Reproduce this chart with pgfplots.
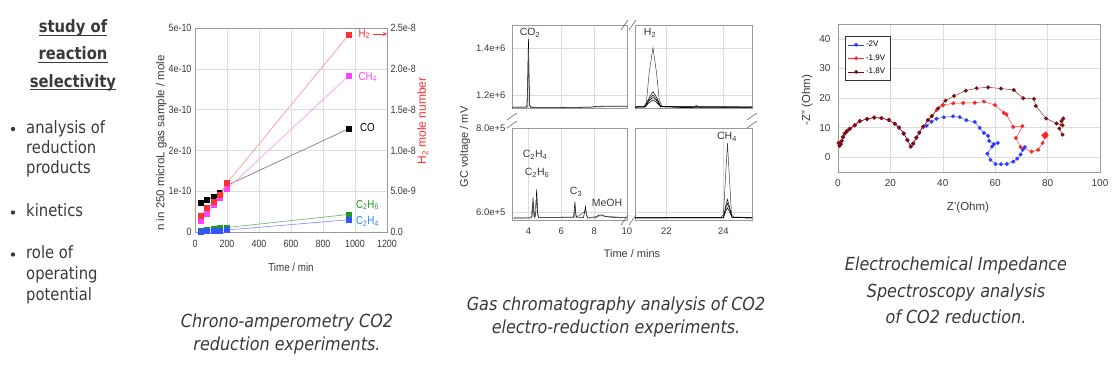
\documentclass[border=0pt]{standalone}
\usepackage{fontspec}
\setmainfont{Liberation Sans}
\newfontfamily\pa[FakeStretch=0.85]{Liberation Sans}
\newfontfamily\lf[FakeStretch=0.87]{DejaVu Sans}
\newfontfamily\cf[FakeStretch=0.89]{DejaVu Sans}
\usepackage{pgfplots}
\pgfplotsset{compat=1.18}
\definecolor{txt}{HTML}{3A3A3A}
\definecolor{gridc}{HTML}{DCDCDC}
\definecolor{axc}{HTML}{9A9A9A}
\definecolor{hred}{HTML}{FF3030}
\definecolor{hredl}{HTML}{FF9A9A}
\definecolor{cmag}{HTML}{FF40FF}
\definecolor{cmagl}{HTML}{FF9CFF}
\definecolor{cgrn}{HTML}{229922}
\definecolor{cgrnl}{HTML}{77BB77}
\definecolor{cblu}{HTML}{3355FF}
\definecolor{cblul}{HTML}{8899FF}
\definecolor{eblue}{HTML}{2E3BFF}
\definecolor{ered}{HTML}{FF2222}
\definecolor{emar}{HTML}{7A0F0F}
\pgfplotsset{
  base/.style={scale only axis, axis line style={draw=axc}, grid=major,
    grid style={draw=gridc, line width=0.4pt}, major tick length=0pt,
    tick label style={text=txt}, anchor=south west},
}
\newcommand{\paf}{\pa\fontsize{10.5}{11}\selectfont}
\newcommand{\pal}{\pa\fontsize{11.5}{12}\selectfont}
\newcommand{\gt}{\fontsize{9.5}{10}\selectfont}
\newcommand{\lff}{\lf\fontsize{17}{20}\selectfont}
\newcommand{\cff}{\cf\itshape\fontsize{18}{22}\selectfont}
\begin{document}
\begin{tikzpicture}[x=1pt,y=1pt]
\path[use as bounding box, fill=white] (0,0) rectangle (1120,366);

% ---------- left text ----------
\begin{scope}[every node/.style={inner sep=0, text=txt}]
\node[anchor=base, font={\lff\bfseries}] (t1) at (73,{366-32.7}) {study of};
\node[anchor=base, font={\lff\bfseries}] (t2) at (73,{366-60}) {reaction};
\node[anchor=base, font={\lff\bfseries}] (t3) at (73,{366-87.3}) {selectivity};
\foreach \t in {t1,t2,t3}{
  \draw[txt, line width=1.1pt] ([yshift=-2.4pt]\t.base west) -- ([yshift=-2.4pt]\t.base east);}
\node[anchor=base west, font=\lff] at (26,{366-133.5}) {analysis of};
\node[anchor=base west, font=\lff] at (26,{366-153.5}) {reduction};
\node[anchor=base west, font=\lff] at (26,{366-173.5}) {products};
\node[anchor=base west, font=\lff] at (26,{366-217}) {kinetics};
\node[anchor=base west, font=\lff] at (26,{366-259}) {role of};
\node[anchor=base west, font=\lff] at (26,{366-280}) {operating};
\node[anchor=base west, font=\lff] at (26,{366-301}) {potential};
\fill[txt] (13,{366-129}) circle (2.2);
\fill[txt] (13,{366-212.5}) circle (2.2);
\fill[txt] (13,{366-254.5}) circle (2.2);
% captions
\node[anchor=base, font=\cff] at (287,{366-328}) {Chrono-amperometry CO2};
\node[anchor=base, font=\cff] at (287,{366-351}) {reduction experiments.};
\node[anchor=base, font=\cff] at (616,{366-311}) {Gas chromatography analysis of CO2};
\node[anchor=base, font=\cff] at (616,{366-334}) {electro-reduction experiments.};
\node[anchor=base, font=\cff] at (956,{366-271}) {Electrochemical Impedance};
\node[anchor=base, font=\cff] at (956,{366-298}) {Spectroscopy analysis};
\node[anchor=base, font=\cff] at (956,{366-324}) {of CO2 reduction.};
\end{scope}

% ---------- panel 1: chrono-amperometry ----------
\begin{axis}[base, at={(195pt,134pt)}, width=192pt, height=204pt,
  xmin=0, xmax=1200, ymin=0, ymax=5, clip=false,
  xtick={0,200,400,600,800,1000,1200}, xticklabels={0,200,400,600,800,1000,1200},
  ytick={0,1,2,3,4,5}, yticklabels={0,1e-10,2e-10,3e-10,4e-10,5e-10},
  tick label style={font=\paf},
  xticklabel style={yshift=-5pt},
  xlabel={Time / min}, ylabel={n in 250 microL gas sample / mole},
  xlabel style={font=\pal, text=txt, at={(axis description cs:0.5,-0.172)}, anchor=center},
  ylabel style={font=\fontsize{11.5}{12}\selectfont, text=txt, at={(axis description cs:-0.175,0.436)}, anchor=center},
  mark size=2.5pt]
\addplot[draw=gray, line width=0.7pt, mark=square*, mark options={draw=black,fill=black}] coordinates {(35,0.71) (77,0.79) (118,0.87) (156,0.97) (200,1.14) (960,2.53)};
\addplot[draw=cmagl, line width=0.7pt, mark=square*, mark options={draw=cmag,fill=cmag}] coordinates {(35,0.27) (77,0.45) (118,0.66) (156,0.84) (200,1.05) (960,3.83)};
\addplot[draw=cgrnl, line width=0.7pt, mark=square*, mark options={draw=cgrn,fill=cgrn}] coordinates {(35,0.03) (77,0.05) (118,0.07) (156,0.09) (200,0.11) (960,0.43)};
\addplot[draw=cblul, line width=0.7pt, mark=square*, mark options={draw=cblu,fill=cblu}] coordinates {(35,0.01) (77,0.02) (118,0.03) (156,0.04) (200,0.05) (960,0.30)};
\node[anchor=west, text=hred, font=\pal] at (axis cs:1000,4.85) {H\textsubscript{2}};
\draw[hred, line width=0.8pt, -stealth] (axis cs:1115,4.85) -- (axis cs:1200,4.85);
\node[anchor=west, text=cmag, font=\pal] at (axis cs:1000,3.8) {CH\textsubscript{4}};
\node[anchor=west, text=black, font=\pal] at (axis cs:1010,2.55) {CO};
\node[anchor=west, text=cgrn, font=\pal] at (axis cs:985,0.66) {C\textsubscript{2}H\textsubscript{6}};
\node[anchor=west, text=cblu!70!cyan, font=\pal] at (axis cs:985,0.25) {C\textsubscript{2}H\textsubscript{4}};
\end{axis}
\begin{axis}[scale only axis, anchor=south west, at={(195pt,134pt)}, width=192pt, height=204pt,
  xmin=0, xmax=1200, ymin=0, ymax=2.5, axis x line=none, axis y line*=right,
  axis line style={draw=axc}, major tick length=0pt,
  ytick={0,0.5,1,1.5,2,2.5}, yticklabels={0.0,5.0e-9,1.0e-8,1.5e-8,2.0e-8,2.5e-8},
  tick label style={font=\paf, text=txt},
  ylabel={H\textsubscript{2} mole number},
  ylabel style={font=\fontsize{12}{13}\selectfont, text=hred, at={(axis description cs:1.185,0.544)}, anchor=center, rotate=0},
  mark size=2.5pt]
\addplot[draw=hredl, line width=0.7pt, mark=square*, mark options={draw=hred,fill=hred}] coordinates {(35,0.195) (77,0.295) (118,0.37) (156,0.45) (200,0.60) (960,2.415)};
\end{axis}

% ---------- panel 2: GC ----------
\begin{axis}[base, at={(512pt,258pt)}, width=115pt, height=83pt,
  xmin=3, xmax=10, ymin=11.45, ymax=15,
  xtick={4,6,8,10}, xticklabels={}, ytick={12,14}, yticklabels={1.2e+6,1.4e+6},
  tick label style={font=\gt}, yticklabel style={xshift=-3pt}]
\addplot[black, line width=0.55pt] coordinates {(3.0,11.49) (3.85,11.49) (3.88,11.53) (3.92,11.50) (3.96,12.8) (4.0,14.4) (4.04,12.6) (4.08,11.55) (4.15,11.47) (5,11.47) (6,11.47) (7,11.48) (7.9,11.49) (8.1,11.52) (9,11.53) (9.8,11.53) (10,11.52)};
\addplot[black!70, line width=0.45pt] coordinates {(3.0,11.48) (3.9,11.49) (3.96,12.5) (4.0,14.0) (4.05,12.2) (4.1,11.5) (5,11.46) (7,11.47) (8.2,11.5) (9.5,11.51) (10,11.5)};
\end{axis}
\begin{axis}[base, at={(635pt,258pt)}, width=117pt, height=83pt,
  xmin=20.9, xmax=25.0, ymin=11.45, ymax=15,
  xtick={22,24}, xticklabels={}, ytick={12,14}, yticklabels={}]
\addplot[black!75, line width=0.5pt] coordinates {(20.9,11.50) (21.2,11.50) (21.3,11.70) (21.4,13.0) (21.53,14.03) (21.65,13.0) (21.75,11.8) (21.85,11.52) (22.5,11.49) (22.95,11.49) (23.05,11.56) (23.15,11.49) (24,11.48) (24.9,11.49) (25,11.50)};
\addplot[black, line width=0.5pt] coordinates {(20.9,11.49) (21.25,11.50) (21.4,11.90) (21.53,12.15) (21.66,11.90) (21.8,11.52) (22.5,11.48) (25,11.49)};
\addplot[black, line width=0.5pt] coordinates {(20.9,11.49) (21.25,11.50) (21.4,11.82) (21.53,12.0) (21.66,11.82) (21.8,11.51) (22.5,11.48) (25,11.49)};
\addplot[black, line width=0.5pt] coordinates {(20.9,11.49) (21.25,11.50) (21.4,11.76) (21.53,11.9) (21.66,11.76) (21.8,11.51) (25,11.49)};
\addplot[black, line width=0.5pt] coordinates {(20.9,11.49) (21.25,11.50) (21.4,11.68) (21.53,11.8) (21.66,11.68) (21.8,11.50) (25,11.49)};
\end{axis}
\begin{axis}[base, at={(512pt,146pt)}, width=115pt, height=92pt,
  xmin=3, xmax=10, ymin=5.81, ymax=8.0,
  xtick={4,6,8,10}, xticklabels={4,6,8,10}, ytick={6,8}, yticklabels={6.0e+5,8.0e+5},
  tick label style={font=\gt}, yticklabel style={xshift=-3pt}, xticklabel style={yshift=-4pt}]
\addplot[black, line width=0.55pt] coordinates {(3.1,5.86) (3.5,5.86) (4.15,5.86) (4.22,5.90) (4.28,6.34) (4.34,5.90) (4.4,5.88) (4.45,6.0) (4.5,6.54) (4.56,5.95) (4.62,5.87) (5.5,5.87) (6.5,5.88) (6.75,5.88) (6.8,6.1) (6.83,6.245) (6.87,6.0) (6.92,5.88) (7.35,5.87) (7.42,6.0) (7.47,6.13) (7.53,5.95) (7.6,5.86) (8.1,5.86) (8.25,5.92) (8.45,5.93) (8.7,5.89) (9.2,5.87) (10,5.87)};
\addplot[black!70, line width=0.45pt] coordinates {(3.1,5.85) (4.15,5.86) (4.28,6.2) (4.36,5.88) (4.5,6.38) (4.6,5.87) (6.78,5.87) (6.83,6.1) (6.9,5.87) (7.47,6.02) (7.6,5.86) (8.4,5.91) (10,5.86)};
\end{axis}
\begin{axis}[base, at={(635pt,146pt)}, width=117pt, height=92pt,
  xmin=20.9, xmax=25.0, ymin=5.81, ymax=8.0,
  xtick={22,24}, xticklabels={22,24}, ytick={6,8}, yticklabels={},
  tick label style={font=\gt}, xticklabel style={yshift=-4pt}]
\addplot[black!75, line width=0.5pt] coordinates {(20.9,5.86) (23.9,5.86) (24.0,5.95) (24.07,6.8) (24.14,7.64) (24.21,6.8) (24.28,5.95) (24.4,5.87) (25,5.86)};
\addplot[black, line width=0.5pt] coordinates {(20.9,5.87) (24.0,5.87) (24.08,6.15) (24.14,6.30) (24.2,6.15) (24.3,5.88) (25,5.87)};
\addplot[black, line width=0.5pt] coordinates {(20.9,5.86) (24.0,5.87) (24.08,6.1) (24.14,6.20) (24.2,6.1) (24.3,5.87) (25,5.86)};
\addplot[black, line width=0.5pt] coordinates {(20.9,5.86) (24.0,5.86) (24.08,6.02) (24.14,6.10) (24.2,6.02) (24.3,5.87) (25,5.86)};
\end{axis}
% break marks
\begin{scope}[draw=black!60, line width=0.6pt]
\draw (621,{366-30}) -- (628,{366-20});
\draw (629,{366-30}) -- (636,{366-20});
\draw (621,{366-225}) -- (628,{366-215});
\draw (629,{366-225}) -- (636,{366-215});
\draw (507,{366-120}) -- (517,{366-113});
\draw (507,{366-128}) -- (517,{366-121});
\draw (747,{366-120}) -- (757,{366-113});
\draw (747,{366-128}) -- (757,{366-121});
\end{scope}
% GC labels
\begin{scope}[every node/.style={inner sep=0, text=txt}]
\node[font=\fontsize{11}{12}\selectfont, rotate=90] at (465,{366-147}) {GC voltage / mV};
\node[font=\fontsize{11}{12}\selectfont] at (632,{366-254}) {Time / mins};
\node[font=\fontsize{10.5}{11}\selectfont] at (530,{366-33}) {CO\textsubscript{2}};
\node[font=\fontsize{10.5}{11}\selectfont] at (650,{366-33}) {H\textsubscript{2}};
\node[font=\fontsize{10.5}{11}\selectfont] at (727,{366-137}) {CH\textsubscript{4}};
\node[font=\fontsize{10.5}{11}\selectfont] at (535,{366-155}) {C\textsubscript{2}H\textsubscript{4}};
\node[font=\fontsize{10.5}{11}\selectfont] at (537,{366-173}) {C\textsubscript{2}H\textsubscript{6}};
\node[font=\fontsize{10.5}{11}\selectfont] at (576,{366-192}) {C\textsubscript{3}};
\node[font=\fontsize{10.5}{11}\selectfont] at (607,{366-203}) {MeOH};
\end{scope}

% ---------- panel 3: EIS ----------
\begin{axis}[base, at={(838pt,194pt)}, width=262pt, height=148pt,
  xmin=0, xmax=100, ymin=-5, ymax=45,
  xtick={0,20,40,60,80,100}, xticklabels={0,20,40,60,80,100},
  ytick={0,10,20,30,40}, yticklabels={0,10,20,30,40},
  tick label style={font=\fontsize{10}{11}\selectfont},
  xticklabel style={yshift=-4pt}, yticklabel style={xshift=-4pt},
  xlabel={Z'(Ohm)}, ylabel={-Z" (Ohm)},
  xlabel style={font=\fontsize{11.5}{12}\selectfont, text=txt, at={(axis description cs:0.496,-0.243)}, anchor=center},
  ylabel style={font=\fontsize{11.5}{12}\selectfont, text=txt, at={(axis description cs:-0.118,0.486)}, anchor=center},
  legend style={at={(0.027,0.919)}, anchor=north west, font=\fontsize{8}{9}\selectfont, draw=black!80, inner xsep=3pt, inner ysep=3pt, row sep=2.5pt, cells={anchor=west}},
  legend image post style={xscale=0.9},
  mark size=1.8pt]
\addplot[eblue, line width=0.4pt, mark=*] coordinates {(0.3,4.8) (0.6,3.9) (1.0,4.4) (1.4,5.5) (1.9,6.8) (2.6,8.0) (3.4,8.8) (4.5,9.6) (6.4,10.8) (8.3,12.2) (11.1,12.9) (13.8,13.4) (16.6,13.2) (19.4,12.6) (21.7,11.3) (23.3,10.0) (25.1,8.0) (26.5,5.8) (27.8,3.6) (28.7,4.6) (29.9,6.6) (31.0,8.3) (32.5,10.3) (33.8,10.6) (35.7,12.0) (37.6,13.0) (40.4,13.5) (43.9,13.8) (46.5,13.5) (49.0,12.5) (52.2,11.9) (54.1,9.9) (55.7,8.2) (57.3,7.2) (57.7,5.5) (59.4,4.4) (61.0,4.8) (58.8,3.6) (57.0,1.2) (58.2,-0.9) (60.1,-2.3) (62.2,-2.4) (64.4,-2.3) (66.9,-1.5) (68.4,-0.5) (69.7,0.9) (70.5,2.5) (71.3,3.4)};
\addlegendentry{-2V}
\addplot[ered, line width=0.4pt, mark=*] coordinates {(0.3,4.8) (0.6,3.9) (1.0,4.4) (1.4,5.5) (1.9,6.8) (2.6,8.0) (3.4,8.8) (4.5,9.6) (6.4,10.8) (8.3,12.2) (11.1,12.9) (13.8,13.4) (16.6,13.2) (19.4,12.6) (21.7,11.3) (23.3,10.0) (25.1,8.0) (26.5,5.8) (27.8,3.6) (28.7,4.6) (29.9,6.6) (31.0,8.3) (32.5,10.3) (34.3,12.5) (35.8,13.9) (37.6,15.9) (40.1,17.6) (44.0,18.2) (47.8,18.3) (52.2,18.4) (55.7,18.8) (59.9,17.6) (63.3,15.0) (64.3,14.4) (66.9,10.2) (70.4,10.5) (67.9,6.5) (69.7,3.4) (73.9,1.9) (76.4,2.5) (78.1,4.8) (79.0,6.8) (79.3,8.0) (78.4,7.4) (79.6,7.3)};
\addlegendentry{-1,9V}
\addplot[emar, line width=0.4pt, mark=*] coordinates {(0.3,4.8) (0.6,3.9) (1.0,4.4) (1.4,5.5) (1.9,6.8) (2.6,8.0) (3.4,8.8) (4.5,9.6) (6.4,10.8) (8.3,12.2) (11.1,12.9) (13.8,13.4) (16.6,13.2) (19.4,12.6) (21.7,11.3) (23.3,10.0) (25.1,8.0) (26.5,5.8) (27.8,3.6) (28.7,4.6) (29.9,6.6) (31.0,8.3) (32.5,10.3) (34.3,12.5) (35.8,13.9) (38.2,16.5) (41.0,19.1) (44.3,20.7) (48.8,22.5) (52.9,23.3) (57.3,23.6) (62.2,23.2) (67.1,22.7) (70.7,19.9) (74.8,19.7) (75.5,17.3) (79.4,13.1) (83.4,11.4) (85.7,10.8) (86.0,13.1) (85.3,12.2) (84.5,9.7) (85.7,7.6)};
\addlegendentry{-1,8V}
\end{axis}
\end{tikzpicture}
\end{document}
